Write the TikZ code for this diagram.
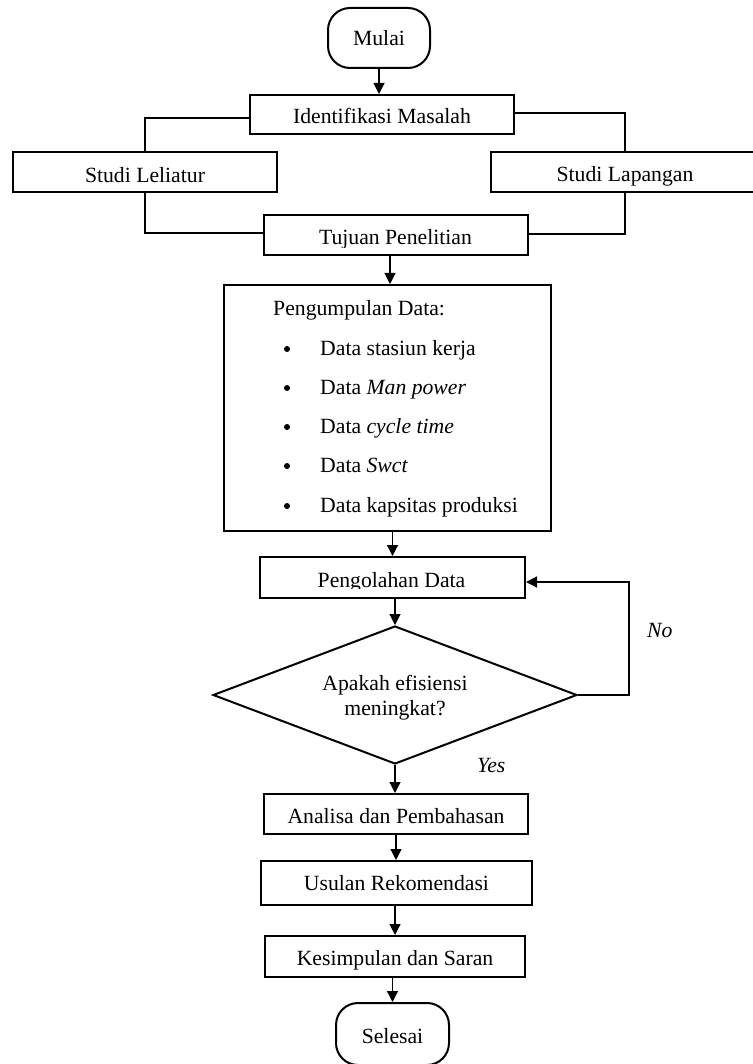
\documentclass[tikz,border=0pt]{standalone}
\usepackage{fontspec}
\setmainfont{Liberation Serif}
\usetikzlibrary{arrows.meta,shapes.geometric}
\newcommand{\myfs}{\fontsize{21.7pt}{26pt}\selectfont}
\tikzset{
  boxnode/.style={draw, line width=2pt, inner sep=0pt, font=\myfs, text height=19pt, text depth=0pt},
  termnode/.style={boxnode, rounded corners=22pt},
  txt/.style={inner sep=0pt, font=\myfs},
  conn/.style={line width=1.2pt},
  arr/.style={conn, -{Triangle[length=11pt,width=11pt]}},
  dot/.style={fill=black}
}
\begin{document}
\begin{tikzpicture}[x=1pt,y=-1pt]
\useasboundingbox (0,0) rectangle (752,1064);
% nodes
\node[termnode, minimum width=102pt, minimum height=60pt, text height=16pt] (mulai) at (379,38) {Mulai};
\node[boxnode, minimum width=264pt, minimum height=39pt, text height=18pt] (ident) at (382,114.5) {Identifikasi Masalah};
\node[boxnode, minimum width=264pt, minimum height=40pt, text height=22pt] (lit) at (145,172) {Studi Leliatur};
\node[boxnode, minimum width=268pt, minimum height=40pt] (lap) at (625,172.5) {Studi Lapangan};
\node[boxnode, minimum width=264pt, minimum height=40pt] (tuj) at (396,235) {};
\begin{scope}
  \clip (264,215) rectangle (528,247.5);
  \node[txt, anchor=base] (tujtext) at (395.5,245) {Tujuan Penelitian};
\end{scope}
\node[boxnode, minimum width=327pt, minimum height=246pt] (kumpul) at (387.5,408) {};
\node[txt, anchor=base west] (kumpulhead) at (273,315) {Pengumpulan Data:};
\fill[dot] (287,349) circle (3pt);
\node[txt, anchor=base west] (item1) at (320,355) {Data stasiun kerja};
\fill[dot] (287,388) circle (3pt);
\node[txt, anchor=base west] (item2) at (320,394) {Data \textit{Man power}};
\fill[dot] (287,427) circle (3pt);
\node[txt, anchor=base west] (item3) at (320,433) {Data \textit{cycle time}};
\fill[dot] (287,466) circle (3pt);
\node[txt, anchor=base west] (item4) at (320,472) {Data \textit{Swct}};
\fill[dot] (287,506) circle (3pt);
\node[txt, anchor=base west] (item5) at (320,512) {Data kapsitas produksi};
\node[boxnode, minimum width=265pt, minimum height=41pt] (olah) at (392.5,577.5) {};
\begin{scope}
  \clip (260,557) rectangle (525,588.8);
  \node[txt, anchor=base] (olahtext) at (391.5,587) {Pengolahan Data};
\end{scope}
\node[draw, line width=2pt, diamond, aspect=2.6, inner sep=0pt, minimum width=364pt, minimum height=138pt] (dec) at (395,695) {};
\node[txt, anchor=base] (dect1) at (395,690) {Apakah efisiensi};
\node[txt, anchor=base] (dect2) at (395,715) {meningkat?};
\node[boxnode, minimum width=264pt, minimum height=40pt] (ana) at (396,814) {Analisa dan Pembahasan};
\node[boxnode, minimum width=271pt, minimum height=44pt, text height=14pt] (usul) at (396.5,883) {Usulan Rekomendasi};
\node[boxnode, minimum width=260pt, minimum height=41pt, text height=17pt] (kes) at (395,956.5) {Kesimpulan dan Saran};
\node[termnode, minimum width=113pt, minimum height=62pt, text height=18pt] (sel) at (392.5,1034) {Selesai};
\node[txt, anchor=base west, font=\myfs\itshape] (no) at (647,637) {No};
\node[txt, anchor=base west, font=\myfs\itshape] (yes) at (477,772) {Yes};
% connectors
\draw[arr] (mulai.south) -- (mulai.south |- ident.north);
\draw[conn] ([yshift=-3.5pt]ident.west) -| (lit.north);
\draw[conn] ([yshift=1.5pt]ident.east) -| (lap.north);
\draw[conn] (lit.south) |- ([yshift=2pt]tuj.west);
\draw[conn] (lap.south) |- ([yshift=1pt]tuj.east);
\draw[arr] ([xshift=-6pt]tuj.south) -- ([xshift=-6pt]tuj.south |- kumpul.north);
\draw[arr] (kumpul.south -| olah.north) -- (olah.north);
\draw[arr] (olah.south -| dec.north) -- (dec.north);
\coordinate (loop) at (629,695);
\draw[arr] (dec.east) -- (loop) |- ([yshift=-4.5pt]olah.east);
\draw[arr] (dec.south) -- (dec.south |- ana.north);
\draw[arr] (ana.south) -- (ana.south |- usul.north);
\draw[arr] (usul.south -| kes.north) -- (kes.north);
\draw[arr] (kes.south -| sel.north) -- (sel.north);
\end{tikzpicture}
\end{document}
